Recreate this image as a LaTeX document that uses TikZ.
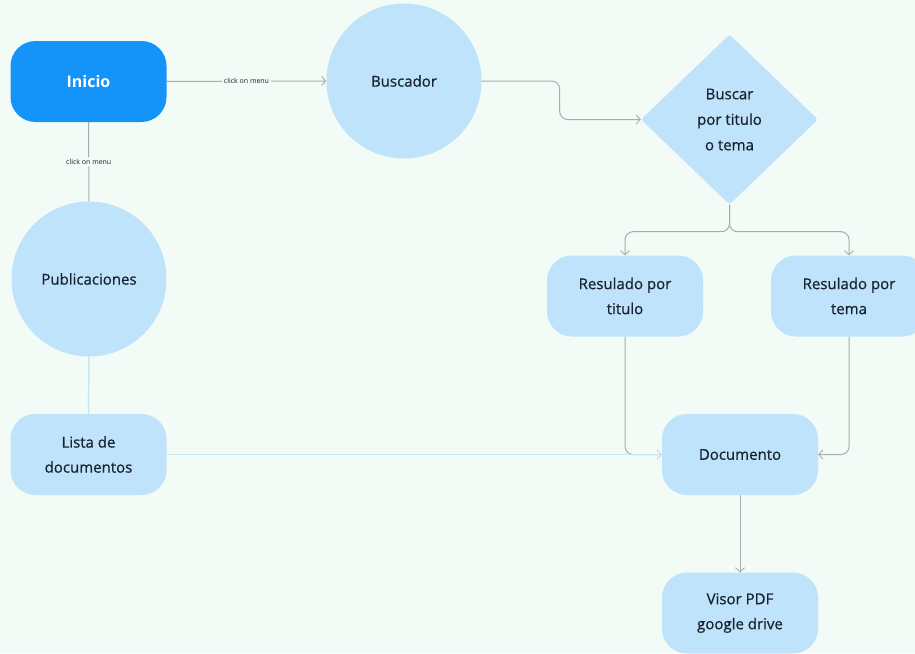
\documentclass[tikz,border=0pt]{standalone}
\usepackage{fontspec}
\setmainfont{Open Sans}
\newfontfamily\medfont[FakeBold=0.6]{Open Sans}
\usetikzlibrary{shapes.geometric,arrows.meta,calc}
\definecolor{bg}{HTML}{F2FBF5}
\definecolor{nodeblue}{HTML}{BEE3FB}
\definecolor{startblue}{HTML}{1493F8}
\definecolor{linegrey}{HTML}{ABABAB}
\definecolor{lightline}{HTML}{CBE6F3}
\definecolor{txt}{HTML}{18222E}
\tikzset{
  x=1pt,y=-1pt,
  boxnode/.style={draw=none,fill=nodeblue,rounded corners=25pt,minimum width=156pt,minimum height=81pt,
    align=center,text=txt,font=\medfont\fontsize{15}{25}\selectfont,inner sep=0pt},
  circnode/.style={circle,draw=none,fill=nodeblue,minimum size=155pt,inner sep=0pt,
    align=center,text=txt,font=\medfont\fontsize{15}{25}\selectfont},
  dianode/.style={diamond,draw=none,fill=nodeblue,minimum width=177pt,minimum height=170pt,inner sep=0pt,
    align=center,text=txt,font=\medfont\fontsize{15}{25.5}\selectfont,rounded corners=3pt},
  conn/.style={draw=linegrey,line width=1pt,rounded corners=8pt},
  lconn/.style={draw=lightline,line width=1.5pt},
  tip/.style={-{Straight Barb[length=4pt,width=9pt,line width=0.9pt]}},
  smalllabel/.style={fill=bg,text=txt,font=\fontsize{7}{8}\selectfont,inner sep=2pt}
}
\begin{document}
\begin{tikzpicture}
\fill[bg] (0,0) rectangle (915,653);
\useasboundingbox (0,0) rectangle (915,653);
\node[boxnode,fill=startblue,text=white,font=\fontsize{16}{20}\selectfont\bfseries] (inicio) at (88.5,81.5) {Inicio};
\node[circnode] (buscador) at (404,81) {Buscador};
\node[dianode] (dia) at (729.5,119.5) {Buscar\\por titulo\\o tema};
\node[circnode] (pub) at (89,279) {Publicaciones};
\node[boxnode] (lista) at (88.5,454.5) {Lista de\\documentos};
\node[boxnode] (tit) at (625,296) {Resulado por\\titulo};
\node[boxnode] (tema) at (849,296) {Resulado por\\tema};
\node[boxnode] (doc) at (740,454.5) {Documento};
\node[boxnode] (visor) at (740,613) {Visor PDF\\google drive};

\draw[conn,tip] (inicio.east) -- node[smalllabel] {click on menu} (buscador.west);
\draw[conn] (inicio.south) -- node[smalllabel] {click on menu} (pub.north);
\draw[lconn] (pub.south) -- (lista.north);
\draw[conn,tip] (buscador.east) -- ++(78,0) |- (dia.west);
\coordinate (split) at ($(dia.south)+(0,27)$);
\draw[conn,tip] (dia.south) -- (split) -| (tit.north);
\draw[conn,tip] (dia.south) -- (split) -| (tema.north);
\draw[conn,tip] (tit.south) |- (doc.west);
\draw[conn,tip] (tema.south) |- (doc.east);
\draw[lconn,tip] (lista.east) -- (doc.west);
\draw[conn,tip] (doc.south) -- (visor.north);
\end{tikzpicture}
\end{document}
